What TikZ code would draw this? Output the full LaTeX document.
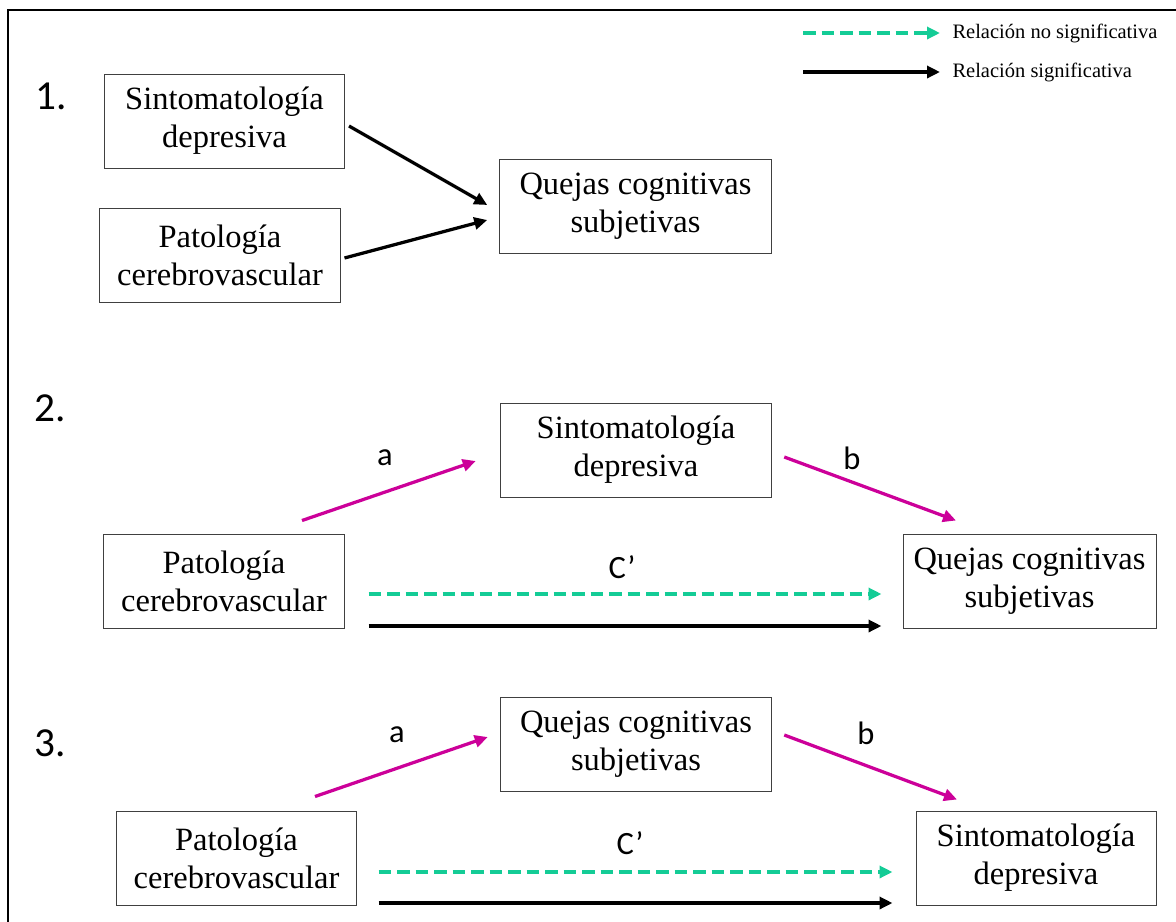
\documentclass[tikz,border=0pt]{standalone}
\usepackage{fontspec}
\setmainfont{Liberation Serif}
\newfontfamily\lblfont{Carlito}
\usepackage{xcolor}
\usetikzlibrary{arrows.meta,positioning}
\definecolor{medmag}{RGB}{204,0,153}
\definecolor{nsgreen}{RGB}{20,204,150}

\begin{document}
\begin{tikzpicture}[
    x=0.4pt, y=-0.4pt,
    box/.style={draw=black!75, line width=0.4pt, minimum width=96pt, minimum height=37.6pt, align=center, font=\fontsize{13}{15.3}\selectfont},
    widebox/.style={box, minimum width=108.6pt},
    arrow/.style={-{Triangle[length=5.2pt, width=4.8pt]}, line width=1.3pt},
    sig/.style={arrow, black},
    nosig/.style={arrow, nsgreen, dash pattern=on 5pt off 2.4pt},
    medarrow/.style={arrow, medmag},
    num/.style={font=\lblfont\fontsize{16.5}{18}\selectfont},
    lbl/.style={font=\lblfont\fontsize{13}{15}\selectfont},
    legtxt/.style={font=\fontsize{8.2}{10}\selectfont, inner sep=0pt}
  ]
    \useasboundingbox (0,0) rectangle (1176,922);
    \draw[line width=0.8pt] (8,922) -- (8,10) -- (1176,10);

    % leyenda
    \coordinate (legNA) at (803,33);
    \coordinate (legNB) at (940,33);
    \coordinate (legSA) at (803,72);
    \coordinate (legSB) at (940,72);
    \draw[nosig] (legNA) -- (legNB);
    \draw[sig] (legSA) -- (legSB);
    \node[legtxt, right=4.8pt of legNB] (legN) {Relación no significativa};
    \node[legtxt, right=4.8pt of legSB] (legS) {Relación significativa};

    % 1.
    \node[num] (numA) at (51,96) {1.};
    \node[box] (depA) at (224.5,121) {Sintomatología\\depresiva};
    \node[box] (patA) at (220,255) {Patología\\cerebrovascular};
    \node[widebox] (qcsA) at (635.5,206) {Quejas cognitivas\\subjetivas};
    \draw[sig] ([shift={(4,5)}]depA.east) -- ([shift={(-12,-1)}]qcsA.west);
    \draw[sig] ([shift={(4,3)}]patA.east) -- ([shift={(-12,14)}]qcsA.west);

    % 2.
    \node[num] (numB) at (50,408) {2.};
    \node[widebox] (depB) at (636,450) {Sintomatología\\depresiva};
    \node[box] (patB) at (224,581.5) {Patología\\cerebrovascular};
    \node[box, minimum width=101.2pt] (qcsB) at (1029.5,581.5) {Quejas cognitivas\\subjetivas};
    \draw[medarrow] ([shift={(78,-13.5)}]patB.north) -- ([shift={(-24,11)}]depB.west);
    \draw[medarrow] ([shift={(12,7)}]depB.east) -- ([shift={(-73.5,-13.5)}]qcsB.north);
    \draw[nosig] ([shift={(24,12.5)}]patB.east) -- ([shift={(-21,12.5)}]qcsB.west);
    \draw[sig] ([shift={(24,44.5)}]patB.east) -- ([shift={(-21,44.5)}]qcsB.west);
    \node[lbl] (aB) at (385,458) {a};
    \node[lbl] (bB) at (852,458) {b};
    \node[lbl] (cB) at (622,567) {C’};

    % 3.
    \node[num] (numC) at (50,743) {3.};
    \node[widebox] (qcsC) at (636,744.5) {Quejas cognitivas\\subjetivas};
    \node[box] (patC) at (236.5,858) {Patología\\cerebrovascular};
    \node[box] (depC) at (1036,858) {Sintomatología\\depresiva};
    \draw[medarrow] ([shift={(78.5,-14)}]patC.north) -- ([shift={(-12,-7.5)}]qcsC.west);
    \draw[medarrow] ([shift={(12,-9.5)}]qcsC.east) -- ([shift={(-79,-11)}]depC.north);
    \draw[nosig] ([shift={(21.5,14)}]patC.east) -- ([shift={(-23,14)}]depC.west);
    \draw[sig] ([shift={(21.5,45)}]patC.east) -- ([shift={(-23,45)}]depC.west);
    \node[lbl] (aC) at (397,735) {a};
    \node[lbl] (bC) at (866,733) {b};
    \node[lbl] (cC) at (630,843) {C’};
  \end{tikzpicture}
\end{document}
